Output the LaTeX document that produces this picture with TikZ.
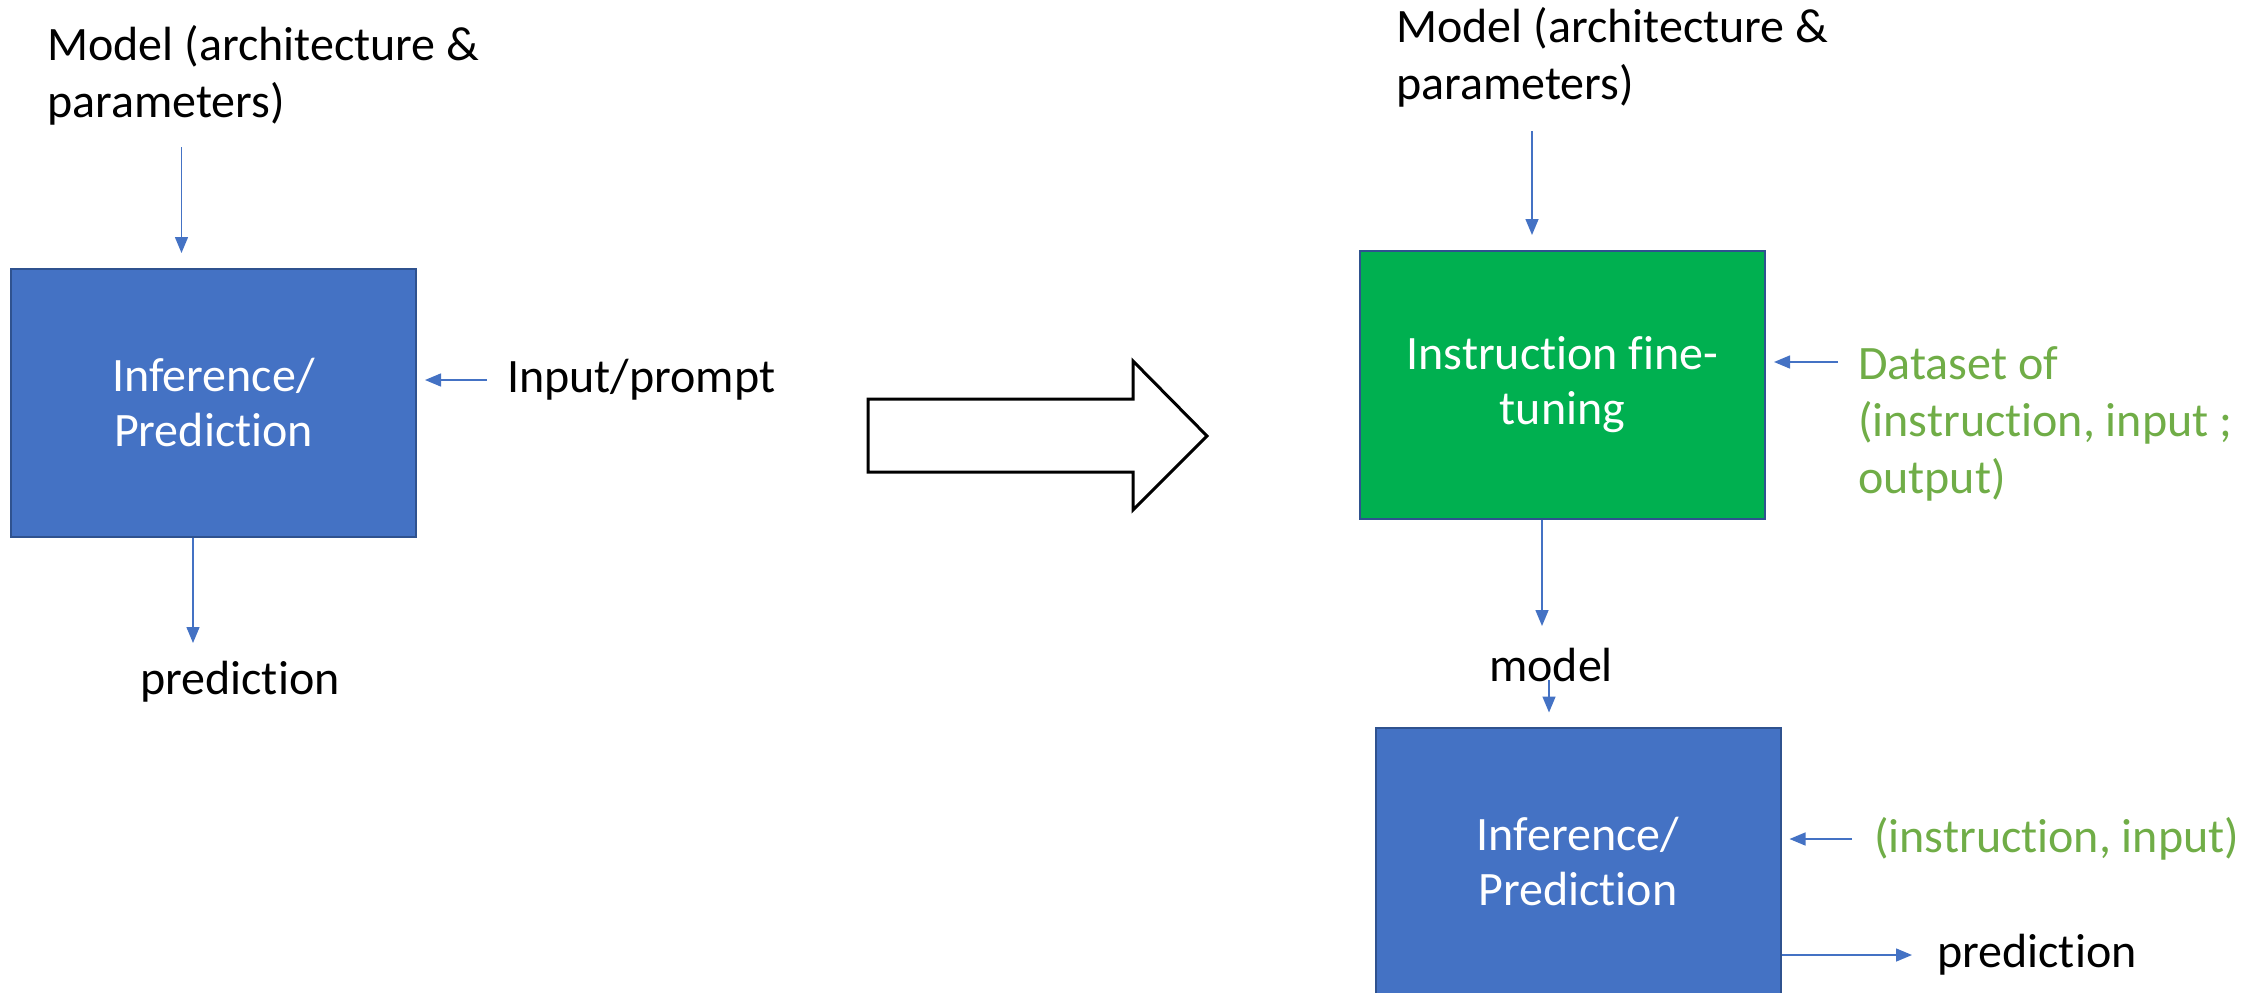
\documentclass[tikz,border=0pt]{standalone}
\usepackage{fontspec}
\setmainfont{Carlito}[Ligatures=NoCommon]
\usetikzlibrary{arrows.meta}
\definecolor{boxblue}{HTML}{4472C4}
\definecolor{edgeblue}{HTML}{2F528F}
\definecolor{tunegreen}{HTML}{00B050}
\definecolor{datagreen}{HTML}{70AD47}
\begin{document}
\begin{tikzpicture}[x=1pt,y=-1pt,
  lbl/.style={font=\fontsize{48}{57}\selectfont, inner sep=0pt, align=left, anchor=west},
  stage/.style={draw=edgeblue, line width=2pt, minimum width=405pt, minimum height=268pt,
    inner sep=0pt, align=center, text=white, font=\fontsize{48}{55}\selectfont},
  conn/.style={draw=boxblue, line width=1.5pt, -{Triangle[width=13pt,length=16pt]}}
]
\useasboundingbox (0,0) rectangle (2241,993);
\clip (0,0) rectangle (2241,993);

% ---- plain inference ----
\node[stage, fill=boxblue] (infA) at (213.5,403) {Inference/\\Prediction};
\node[lbl] (modelA) at (47,75.5) {Model (architecture \&\\parameters)};
\node[lbl] (promptA) at (507,380) {Input/prompt};
\node[lbl] (predA) at (140,682) {prediction};

\coordinate (a1) at (181.5,147);
\draw[conn, shorten >=15pt] (a1) -- (a1 |- infA.north);
\draw[conn, shorten >=8pt] ([xshift=-20pt]promptA.west) -- (promptA.west -| infA.east);
\draw[conn] ([xshift=-20.5pt]infA.south) -- ++(0,105);

% ---- transition ----
\draw[line width=3pt, fill=white, line join=miter]
  (868,399) -- (1133,399) -- (1133,361) -- (1207,436) -- (1133,510) -- (1133,472) -- (868,472) -- cycle;

% ---- instruction fine-tuning, then inference ----
\node[stage, fill=tunegreen] (tune) at (1562.5,385) {Instruction fine-\\tuning};
\node[lbl] (modelB) at (1396,57) {Model (architecture \&\\parameters)};
\node[lbl, text=datagreen] (data) at (1858,423.5) {Dataset of\\(instruction, input ;\\output)};
\node[lbl] (mid) at (1489,665) {model};
\node[stage, fill=boxblue] (infB) at (1578,861.5) {Inference/\\Prediction};
\node[lbl, text=datagreen] (pair) at (1874,839) {(instruction, input)};
\node[lbl] (predB) at (1937,955) {prediction};

\coordinate (b1) at (1532,131);
\draw[conn, shorten >=15pt] (b1) -- (b1 |- tune.north);
\coordinate (b2) at (1838,362);
\draw[conn, shorten >=8pt] (b2) -- (b2 -| tune.east);
\draw[conn] ([xshift=-20.5pt]tune.south) -- ++(0,106);
\coordinate (b3) at (1549,680);
\draw[conn, shorten >=14pt] (b3) -- (b3 |- infB.north);
\coordinate (b4) at (1852,839);
\draw[conn, shorten >=8pt] (b4) -- (b4 -| infB.east);
\draw[conn] (infB.east |- predB.west) -- ([xshift=-25pt]predB.west);
\end{tikzpicture}
\end{document}
